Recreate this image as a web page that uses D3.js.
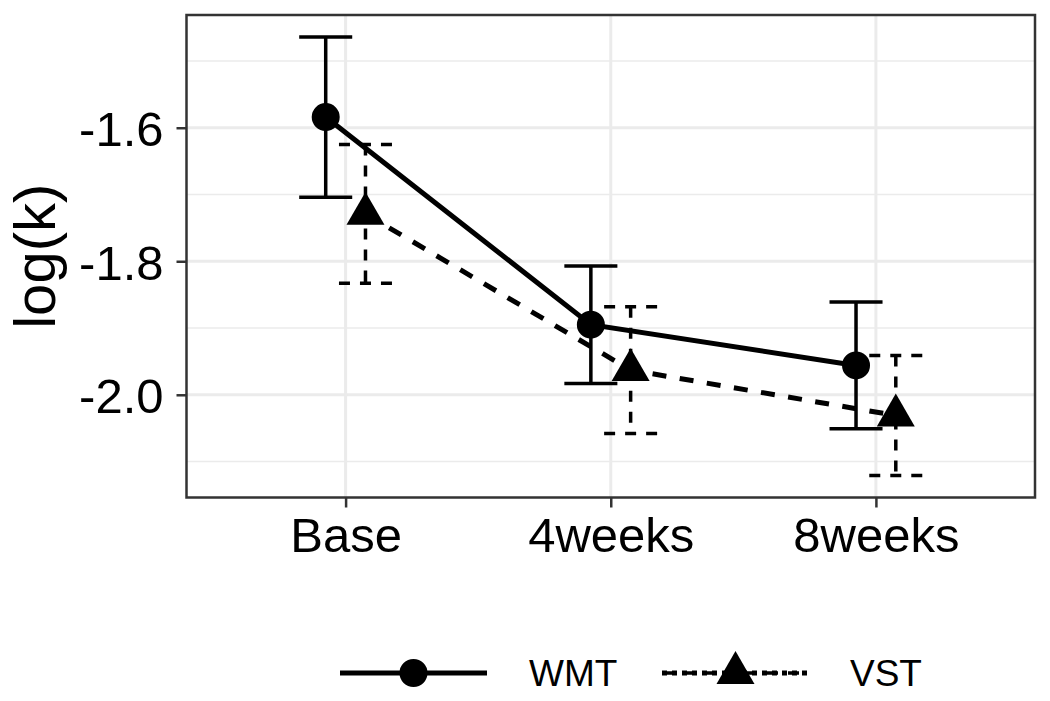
<!DOCTYPE html>
<html>
<head>
<meta charset="utf-8">
<script src="https://cdn.jsdelivr.net/npm/d3@7"></script>
<style>
  html, body { margin: 0; padding: 0; background: #fff; }
  svg { display: block; font-family: "Liberation Sans", Arial, sans-serif; }
</style>
</head>
<body>
<svg id="chart" width="1050" height="701"></svg>
<script>
// ---- data ----
const categories = ["Base", "4weeks", "8weeks"];
const groups = ["WMT", "VST"];
const wmtMean = [-1.584, -1.895, -1.956];
const wmtErr  = [0.120, 0.088, 0.095];
const vstMean = [-1.729, -1.963, -2.031];
const vstErr  = [0.104, 0.095, 0.090];
const yMajorTicks = [-2.0, -1.8, -1.6];
const yMinorTicks = [-2.1, -1.9, -1.7, -1.5];
const yTitle = "log(k)";

// ---- layout ----
const svg = d3.select("#chart");
const panel = { left: 186.5, right: 1035, top: 15, bottom: 497.5 };
const dodge = 0.075, capHalf = 0.1;

const series = [
  { name: groups[0], mean: wmtMean, err: wmtErr, off: -dodge, dash: null, edash: null, shape: d3.symbolCircle, size: 616 },
  { name: groups[1], mean: vstMean, err: vstErr, off: dodge, dash: "14,13.5", edash: "11,10", shape: d3.symbolTriangle, size: 625 }
];

const allLo = series.flatMap(s => s.mean.map((m, i) => m - s.err[i]));
const allHi = series.flatMap(s => s.mean.map((m, i) => m + s.err[i]));
const lo = d3.min(allLo), hi = d3.max(allHi), pad = (hi - lo) * 0.05;

const x = d3.scaleLinear().domain([0.4, categories.length + 0.6]).range([panel.left, panel.right]);
const y = d3.scaleLinear().domain([lo - pad, hi + pad]).range([panel.bottom, panel.top]);

// ---- grid ----
const grid = svg.append("g");
yMinorTicks.forEach(v => grid.append("line")
  .attr("x1", panel.left).attr("x2", panel.right).attr("y1", y(v)).attr("y2", y(v))
  .attr("stroke", "#EBEBEB").attr("stroke-width", 1.6));
yMajorTicks.forEach(v => grid.append("line")
  .attr("x1", panel.left).attr("x2", panel.right).attr("y1", y(v)).attr("y2", y(v))
  .attr("stroke", "#EBEBEB").attr("stroke-width", 3));
categories.forEach((c, i) => grid.append("line")
  .attr("x1", x(i + 1)).attr("x2", x(i + 1)).attr("y1", panel.top).attr("y2", panel.bottom)
  .attr("stroke", "#EBEBEB").attr("stroke-width", 3));

// ---- error bars ----
const eb = svg.append("g");
series.forEach(s => {
  s.mean.forEach((m, i) => {
    const cx = i + 1 + s.off;
    const p = d3.path();
    p.moveTo(x(cx - capHalf), y(m + s.err[i])); p.lineTo(x(cx + capHalf), y(m + s.err[i]));
    p.moveTo(x(cx), y(m + s.err[i])); p.lineTo(x(cx), y(m - s.err[i]));
    p.moveTo(x(cx - capHalf), y(m - s.err[i])); p.lineTo(x(cx + capHalf), y(m - s.err[i]));
    eb.append("path").attr("d", p.toString()).attr("fill", "none")
      .attr("stroke", "#000").attr("stroke-width", 3.5)
      .attr("stroke-dasharray", s.edash);
  });
});

// ---- lines ----
const line = d3.line().x(d => x(d.x)).y(d => y(d.y));
series.forEach(s => {
  svg.append("path")
    .datum(s.mean.map((m, i) => ({ x: i + 1 + s.off, y: m })))
    .attr("d", line).attr("fill", "none").attr("stroke", "#000")
    .attr("stroke-width", 5).attr("stroke-dasharray", s.dash);
});

// ---- points ----
series.forEach(s => {
  s.mean.forEach((m, i) => {
    svg.append("path")
      .attr("d", d3.symbol(s.shape, s.size)())
      .attr("transform", `translate(${x(i + 1 + s.off)},${y(m)})`)
      .attr("fill", "#000");
  });
});

// ---- panel border ----
svg.append("rect").attr("x", panel.left).attr("y", panel.top)
  .attr("width", panel.right - panel.left).attr("height", panel.bottom - panel.top)
  .attr("fill", "none").attr("stroke", "#333333").attr("stroke-width", 2.5);

// ---- axes ----
const yAxis = svg.append("g").attr("transform", `translate(${panel.left},0)`)
  .call(d3.axisLeft(y).tickValues(yMajorTicks).tickFormat(v => v.toFixed(1)).tickSize(10).tickPadding(13));
const xAxis = svg.append("g").attr("transform", `translate(0,${panel.bottom})`)
  .call(d3.axisBottom(x).tickValues(categories.map((c, i) => i + 1))
    .tickFormat(v => categories[v - 1]).tickSize(10).tickPadding(10));
[yAxis, xAxis].forEach(a => {
  a.select(".domain").remove();
  a.selectAll(".tick line").attr("stroke", "#333333").attr("stroke-width", 2.5);
  a.selectAll(".tick text").attr("fill", "#000").style("font-size", "49px")
    .style("font-family", "'Liberation Sans', Arial, sans-serif");
});
yAxis.selectAll(".tick text").attr("dy", "0.37em");
xAxis.selectAll(".tick text").attr("dy", "0.71em");

svg.append("text").attr("transform", `translate(55,${(panel.top + panel.bottom) / 2}) rotate(-90)`)
  .attr("text-anchor", "middle").style("font-size", "58px").attr("fill", "#000").text(yTitle);

// ---- legend ----
const legY = 673;
const legItems = [
  { s: series[0], x0: 340, textX: 529 },
  { s: series[1], x0: 662, textX: 850 }
];
const legLen = 147;
legItems.forEach(it => {
  const g = svg.append("g");
  g.append("line").attr("x1", it.x0).attr("x2", it.x0 + legLen).attr("y1", legY).attr("y2", legY)
    .attr("stroke", "#000").attr("stroke-width", 3.5).attr("stroke-dasharray", it.s.edash);
  g.append("line").attr("x1", it.x0).attr("x2", it.x0 + legLen).attr("y1", legY).attr("y2", legY)
    .attr("stroke", "#000").attr("stroke-width", 5).attr("stroke-dasharray", it.s.dash ? "5,5" : null);
  g.append("path").attr("d", d3.symbol(it.s.shape, it.s.size)())
    .attr("transform", `translate(${it.x0 + legLen / 2},${legY})`).attr("fill", "#000");
  g.append("text").attr("x", it.textX).attr("y", legY).attr("dy", "0.36em")
    .style("font-size", "37px").attr("fill", "#000").text(it.s.name);
});
</script>
</body>
</html>
